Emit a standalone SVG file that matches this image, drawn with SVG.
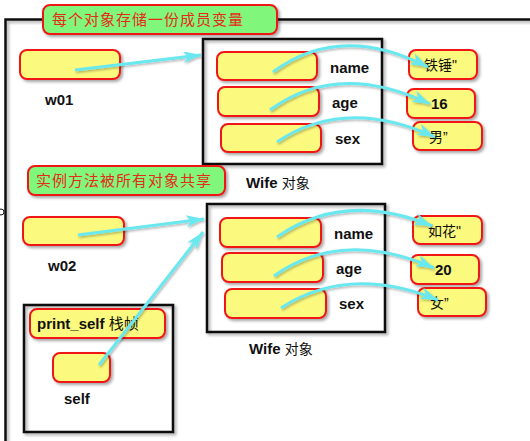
<svg xmlns="http://www.w3.org/2000/svg" width="530" height="441" viewBox="0 0 530 441">
<style>
.frame{fill:none;stroke:#111;stroke-width:2.5;filter:url(#sh)}
.cell{fill:#fbf97e;stroke:#f01818;stroke-width:2;filter:url(#sh)}
.note{fill:#80f77a;stroke:#f01818;stroke-width:2;filter:url(#sh)}
.lbl{font-family:"Liberation Sans",Arial,sans-serif;font-weight:bold;font-size:15px;fill:#111}
.cjk{font-family:"Liberation Sans","Noto Sans CJK SC",sans-serif;font-size:14px;fill:#111}
.ntxt{font-family:"Noto Sans CJK SC",sans-serif;font-size:15px;fill:#e42a1a;letter-spacing:1px}
.arr{fill:none;stroke:#6ae8f0;stroke-width:3;marker-end:url(#ah);filter:url(#sh2)}
</style>
<defs>
<filter id="sh" x="-10%" y="-10%" width="130%" height="140%"><feDropShadow dx="2" dy="2" stdDeviation="1.5" flood-color="#000" flood-opacity="0.35"/></filter>
<filter id="sh2" x="-10%" y="-20%" width="130%" height="150%"><feDropShadow dx="1" dy="1.5" stdDeviation="1" flood-color="#000" flood-opacity="0.3"/></filter>
<marker id="ah" markerUnits="userSpaceOnUse" markerWidth="20" markerHeight="14" refX="18" refY="7" orient="auto"><path d="M0,1 L18,7 L0,13 L5,7 Z" fill="#6ae8f0"/></marker>
</defs>
<rect width="530" height="441" fill="#fff"/>
<g id="outer"><rect class="frame" x="5.5" y="19.5" width="600" height="500"/><circle cx="1" cy="212" r="3" fill="#fff" stroke="#111" stroke-width="1"/></g>
<g id="note1"><rect class="note" x="43" y="5" width="234" height="29" rx="7"/><text class="ntxt" x="52" y="25">每个对象存储一份成员变量</text></g>
<g id="w01"><rect class="cell" x="20" y="50" width="100" height="29" rx="7"/><text class="lbl" x="45" y="105">w01</text></g>
<g id="wife1"><rect class="frame" x="203" y="39" width="179" height="125"/>
<rect class="cell" x="217" y="52" width="100" height="28" rx="7"/><text class="lbl" x="330" y="73">name</text>
<rect class="cell" x="218" y="87" width="101" height="29" rx="7"/><text class="lbl" x="332" y="108">age</text>
<rect class="cell" x="221" y="124" width="100" height="28" rx="7"/><text class="lbl" x="335" y="144">sex</text>
<text class="lbl" x="246" y="188">Wife <tspan class="cjk" style="font-weight:normal">对象</tspan></text></g>
<g id="v1"><rect class="cell" x="409" y="50" width="68" height="29" rx="7"/><text class="cjk" x="424" y="70">铁锤"</text></g>
<g id="v2"><rect class="cell" x="407" y="89" width="68" height="29" rx="7"/><text class="lbl" x="431" y="109">16</text></g>
<g id="v3"><rect class="cell" x="413" y="122" width="69" height="28" rx="7"/><text class="cjk" x="429" y="142">男”</text></g>
<g id="note2"><rect class="note" x="28" y="166" width="197" height="29" rx="7"/><text class="ntxt" x="36" y="186">实例方法被所有对象共享</text></g>
<g id="w02"><rect class="cell" x="23" y="217" width="101" height="28" rx="7"/><text class="lbl" x="48" y="271">w02</text></g>
<g id="wife2"><rect class="frame" x="207" y="204" width="178" height="128"/>
<rect class="cell" x="220" y="218" width="101" height="29" rx="7"/><text class="lbl" x="334" y="239">name</text>
<rect class="cell" x="222" y="253" width="101" height="29" rx="7"/><text class="lbl" x="336" y="274">age</text>
<rect class="cell" x="225" y="289" width="101" height="29" rx="7"/><text class="lbl" x="339" y="309">sex</text>
<text class="lbl" x="249" y="354">Wife <tspan class="cjk" style="font-weight:normal">对象</tspan></text></g>
<g id="v4"><rect class="cell" x="413" y="216" width="69" height="28" rx="7"/><text class="cjk" x="428" y="236">如花"</text></g>
<g id="v5"><rect class="cell" x="411" y="255" width="68" height="29" rx="7"/><text class="lbl" x="435" y="275">20</text></g>
<g id="v6"><rect class="cell" x="418" y="288" width="68" height="28" rx="7"/><text class="cjk" x="430" y="308">女”</text></g>
<g id="print_self"><rect class="frame" x="24" y="305" width="149" height="127"/>
<rect class="cell" x="30" y="309" width="135" height="29" rx="7"/><text class="lbl" x="37" y="329">print_self <tspan class="cjk" style="font-weight:normal;font-size:15px">栈帧</tspan></text>
<rect class="cell" x="53" y="353" width="57" height="29" rx="7"/><text class="lbl" x="64" y="404">self</text></g>
<g id="connectors">
<path class="arr" d="M75,70 L201,55"/>
<path class="arr" d="M273,72 Q340,22 428,67"/>
<path class="arr" d="M270,110 Q338,60 430,104"/>
<path class="arr" d="M277,142 Q345,96 435,137"/>
<path class="arr" d="M78,235 L204,219"/>
<path class="arr" d="M99,365 L203,232"/>
<path class="arr" d="M277,237 Q345,190 432,226"/>
<path class="arr" d="M274,276 Q342,228 434,268"/>
<path class="arr" d="M281,308 Q349,264 438,300"/>
</g>
</svg>
